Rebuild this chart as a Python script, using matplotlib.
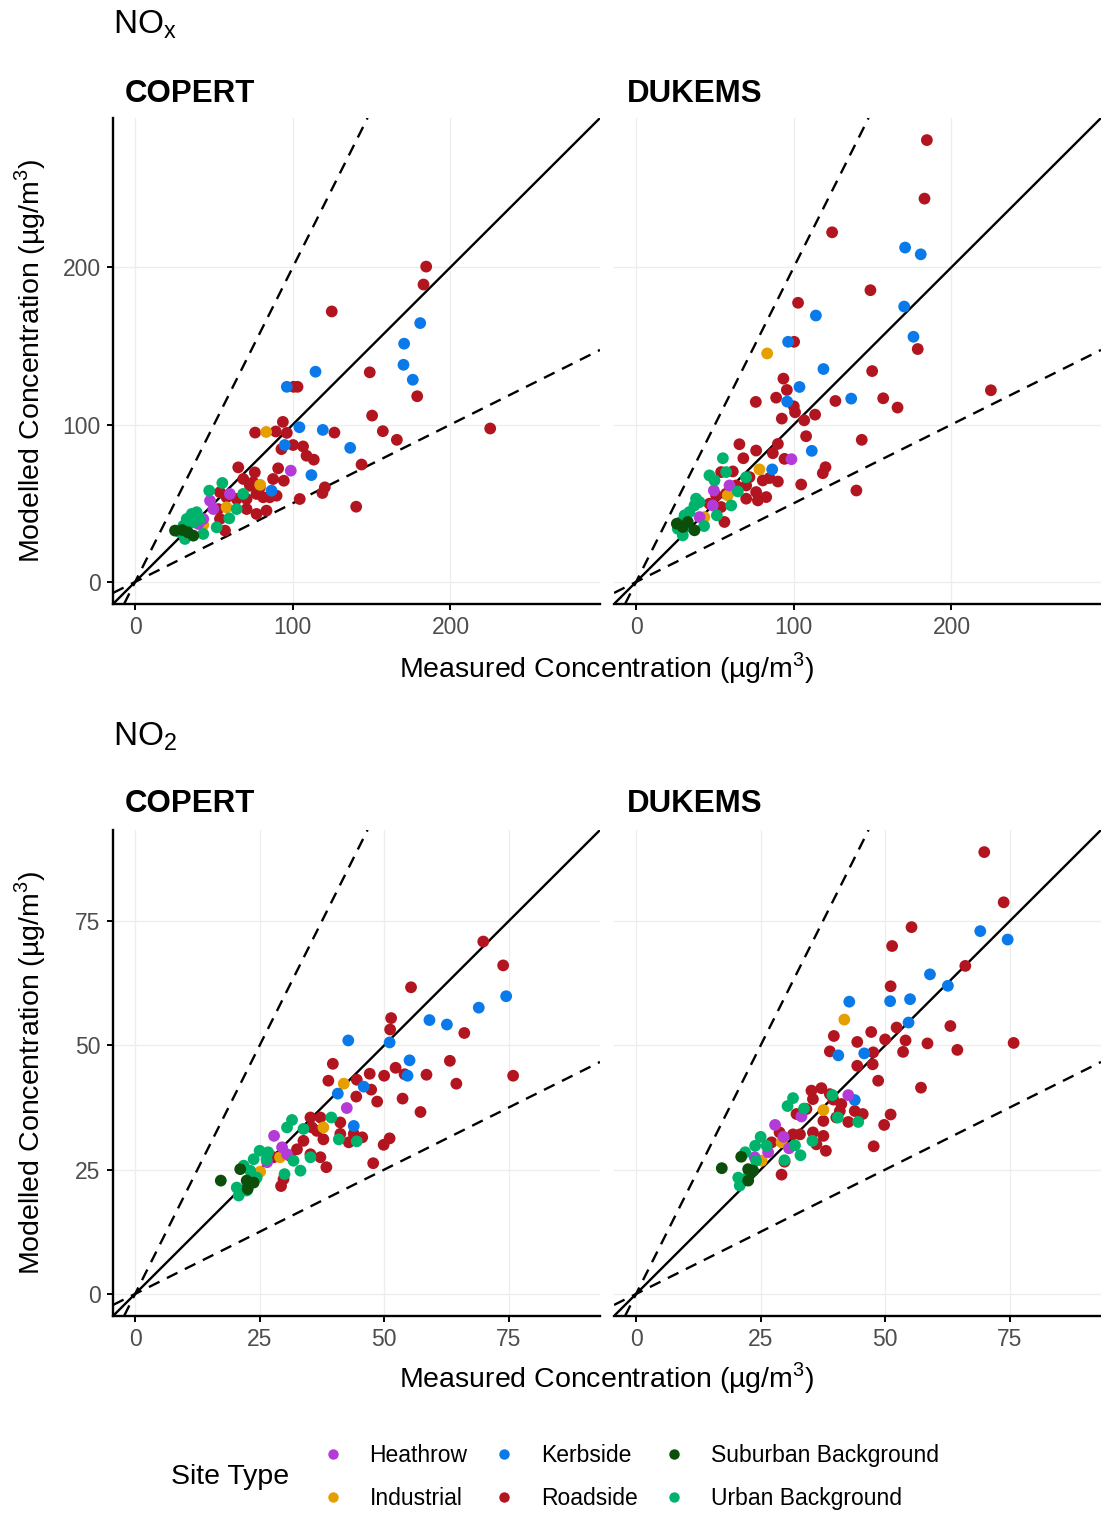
import matplotlib
matplotlib.use("Agg")
import matplotlib.pyplot as plt
from matplotlib.lines import Line2D

plt.rcParams["font.family"] = ["Liberation Sans", "DejaVu Sans"]
plt.rcParams["mathtext.fontset"] = "dejavusans"

site_types = ["Heathrow", "Industrial", "Kerbside", "Roadside",
              "Suburban Background", "Urban Background"]
site_colors = ["#B53BD9", "#E69F00", "#0A7AEB", "#B2151F", "#0B4F0B", "#00B36C"]
draw_order = ["Roadside", "Kerbside", "Industrial", "Heathrow",
              "Urban Background", "Suburban Background"]

# (measured, modelled) pairs

# NOx - COPERT
nox_cop_roadside = [
    (184.6, 200.4), (182.9, 189.0), (124.7, 171.9), (148.8, 133.2), (100.5, 124.0),
    (103.0, 124.0), (178.9, 118.0), (150.3, 105.7), (157.1, 95.8), (166.0, 90.3),
    (225.2, 97.5), (93.7, 101.7), (76.1, 94.9), (89.2, 95.6), (96.2, 94.7),
    (126.4, 94.9), (100.2, 87.0), (106.5, 86.1), (92.8, 84.4), (108.7, 80.2),
    (113.3, 77.7), (143.6, 74.6), (65.4, 72.8), (75.9, 69.6), (90.7, 72.2),
    (87.5, 65.4), (94.3, 64.3), (68.6, 65.4), (120.3, 60.1), (118.8, 56.5),
    (104.4, 52.7), (140.2, 47.8), (53.8, 57.0), (58.0, 53.8), (64.4, 52.7),
    (70.7, 52.7), (77.0, 55.9), (81.2, 53.8), (85.4, 53.8), (89.7, 54.8),
    (79.1, 60.1), (74.9, 63.3), (70.7, 46.3), (77.0, 43.2), (83.3, 45.3),
    (52.7, 46.3), (57.0, 32.6), (53.8, 40.0), (72.8, 61.1),
]
nox_cop_kerbside = [
    (180.8, 164.5), (170.6, 151.4), (170.2, 138.0), (176.1, 128.5), (114.4, 133.6),
    (96.2, 124.0), (104.2, 98.3), (119.0, 96.6), (136.4, 85.2), (94.9, 87.0),
    (111.8, 67.9), (86.5, 58.0),
]
nox_cop_industrial = [(83.1, 95.3), (79.3, 61.7), (58.0, 47.4), (43.2, 36.2)]
nox_cop_heathrow = [(98.7, 70.7), (60.1, 55.9), (49.6, 46.3), (47.5, 51.6),
                    (43.2, 40.0), (40.1, 36.8)]
nox_cop_urban = [
    (55.3, 62.9), (47.0, 58.0), (68.5, 55.9), (64.4, 46.3), (59.7, 40.4),
    (51.7, 34.7), (43.2, 30.5), (39.0, 44.3), (35.9, 43.2), (32.7, 40.0),
    (30.6, 35.7), (36.9, 37.9), (31.6, 27.3), (28.5, 31.6), (41.1, 40.0),
]
nox_cop_suburban = [(25.3, 32.6), (36.9, 29.4), (29.7, 33.0), (33.5, 31.5)]

# NOx - DUKEMS
nox_duk_roadside = [
    (184.4, 280.8), (182.9, 243.6), (124.3, 222.2), (148.6, 185.4), (102.7, 177.4),
    (100.2, 152.6), (178.6, 148.0), (149.7, 134.0), (225.0, 121.8), (93.4, 129.2),
    (95.6, 122.0), (88.8, 117.1), (75.9, 114.4), (126.4, 115.0), (156.7, 116.7),
    (165.8, 110.8), (100.0, 111.6), (100.8, 107.8), (92.4, 103.8), (113.5, 106.3),
    (106.6, 102.7), (107.8, 92.6), (143.1, 90.3), (65.5, 87.5), (76.1, 83.5),
    (89.9, 87.7), (68.0, 78.6), (86.7, 81.8), (94.1, 78.2), (120.1, 72.9),
    (118.4, 69.1), (104.7, 61.9), (139.7, 58.1), (53.9, 69.8), (61.3, 70.2),
    (71.9, 66.6), (80.3, 64.5), (84.6, 66.0), (89.9, 63.8), (69.8, 61.3),
    (76.1, 57.1), (82.5, 53.9), (69.8, 52.9), (77.2, 51.8), (46.5, 49.7),
    (53.9, 47.6), (56.0, 38.1), (50.7, 55.0), (57.0, 56.0), (63.4, 61.3),
]
nox_duk_kerbside = [
    (170.6, 212.5), (180.5, 208.2), (170.0, 175.0), (114.0, 169.3), (96.4, 152.6),
    (175.9, 155.8), (118.8, 135.3), (103.6, 123.9), (136.4, 116.5), (95.8, 114.6),
    (111.4, 83.3), (86.3, 71.5),
]
nox_duk_industrial = [(83.1, 145.2), (78.2, 71.5), (58.1, 55.0), (43.3, 41.2)]
nox_duk_heathrow = [(98.5, 78.0), (49.3, 58.1), (59.2, 61.3), (40.2, 41.2), (48.6, 48.6)]
nox_duk_urban = [
    (55.0, 78.6), (46.5, 67.7), (49.7, 64.5), (57.1, 69.8), (64.5, 57.5),
    (60.3, 48.6), (51.2, 42.3), (43.1, 35.5), (40.2, 50.7), (37.0, 48.6),
    (33.8, 44.4), (30.7, 42.3), (28.5, 38.1), (31.7, 34.9), (29.6, 29.6),
    (26.4, 33.8), (38.0, 52.9), (69.7, 66.5),
]
nox_duk_suburban = [(25.8, 37.0), (29.6, 34.9), (37.0, 32.8), (32.8, 38.1)]

# NO2 - COPERT
no2_cop_roadside = [
    (69.9, 70.9), (73.9, 66.1), (55.4, 61.7), (51.4, 55.5), (51.2, 53.2),
    (66.1, 52.5), (63.2, 46.9), (75.9, 43.9), (64.5, 42.3), (58.5, 44.1),
    (39.7, 46.3), (38.8, 42.9), (44.5, 43.1), (47.1, 44.3), (50.0, 43.9),
    (52.3, 45.5), (54.1, 44.2), (47.4, 41.1), (44.4, 39.7), (48.6, 38.7),
    (53.7, 39.3), (57.3, 36.6), (51.1, 31.3), (49.9, 30.0), (47.8, 26.3),
    (41.2, 34.5), (41.2, 32.2), (43.9, 32.2), (45.6, 31.5), (42.9, 30.5),
    (37.8, 31.1), (38.4, 25.5), (37.2, 35.5), (35.2, 35.5), (35.5, 33.5),
    (33.8, 30.8), (32.5, 29.1), (35.2, 28.1), (37.2, 27.5), (31.1, 27.8),
    (29.8, 23.1), (29.3, 21.7), (27.8, 27.5), (36.5, 32.8),
]
no2_cop_kerbside = [
    (74.5, 59.9), (69.0, 57.6), (59.1, 55.1), (62.6, 54.2), (42.8, 51.0),
    (51.1, 50.6), (55.1, 47.0), (54.7, 43.9), (45.9, 41.7), (40.7, 40.3),
    (43.9, 33.8),
]
no2_cop_industrial = [(41.9, 42.3), (37.8, 33.5), (29.1, 27.5), (25.1, 24.6)]
no2_cop_heathrow = [(42.5, 37.4), (27.9, 31.8), (30.5, 28.1), (29.5, 29.5), (26.5, 26.5)]
no2_cop_urban = [
    (39.4, 35.5), (31.5, 35.0), (30.5, 33.5), (33.8, 33.2), (35.2, 27.5),
    (33.2, 24.8), (30.0, 24.1), (31.8, 26.8), (40.9, 31.1), (44.5, 30.7),
    (25.0, 28.8), (26.4, 27.1), (23.8, 27.1), (21.8, 25.8), (23.1, 24.8),
    (24.4, 23.4), (20.4, 21.4), (20.8, 19.8), (22.4, 20.8), (26.7, 28.5),
]
no2_cop_suburban = [(17.2, 22.8), (21.1, 25.1), (22.4, 22.8), (23.8, 22.4), (22.6, 21.1)]

# NO2 - DUKEMS
no2_duk_roadside = [
    (69.9, 88.9), (73.8, 78.8), (55.3, 73.8), (51.4, 70.0), (66.1, 66.0),
    (51.1, 61.9), (52.3, 53.6), (63.1, 53.9), (75.8, 50.5), (58.5, 50.4),
    (64.5, 49.1), (54.1, 51.0), (53.6, 48.7), (50.0, 51.2), (47.2, 52.7),
    (44.4, 50.7), (39.7, 51.9), (38.9, 48.8), (47.6, 48.6), (47.5, 46.2),
    (44.4, 45.9), (48.6, 42.9), (57.2, 41.5), (51.1, 36.1), (49.8, 34.0),
    (47.7, 29.7), (35.2, 40.9), (37.2, 41.4), (35.5, 39.2), (38.9, 40.2),
    (39.6, 39.1), (41.2, 38.2), (40.9, 36.8), (43.9, 36.8), (45.5, 36.2),
    (42.6, 34.6), (40.2, 35.5), (37.6, 34.8), (32.2, 36.2), (34.2, 37.2),
    (28.8, 32.5), (27.2, 30.5), (32.9, 32.1), (35.5, 32.5), (37.6, 31.8),
    (36.2, 30.1), (38.1, 28.8), (29.8, 26.6), (29.2, 24.0), (31.5, 32.1),
]
no2_duk_kerbside = [
    (69.1, 73.0), (74.6, 71.3), (59.0, 64.3), (62.6, 62.0), (42.8, 58.8),
    (51.0, 58.9), (55.0, 59.3), (54.7, 54.6), (40.6, 48.0), (45.8, 48.4),
    (43.9, 39.0),
]
no2_duk_industrial = [(41.8, 55.2), (37.6, 37.0), (29.2, 30.5), (25.2, 26.8)]
no2_duk_heathrow = [(42.6, 40.0), (33.2, 35.7), (27.9, 34.0), (29.6, 31.6),
                    (30.7, 29.3), (26.5, 28.5), (23.8, 27.5)]
no2_duk_urban = [
    (39.4, 40.0), (31.5, 39.4), (30.4, 37.8), (33.7, 37.3), (40.5, 35.5),
    (44.6, 34.6), (35.4, 30.8), (31.9, 29.9), (33.0, 27.9), (29.8, 26.9),
    (25.0, 31.6), (23.9, 29.8), (26.2, 29.8), (21.9, 28.5), (24.1, 26.8),
    (22.7, 24.4), (20.5, 23.4), (22.1, 23.1), (20.8, 21.8),
]
no2_duk_suburban = [(17.2, 25.3), (21.1, 27.6), (22.5, 25.1), (23.5, 24.8), (22.5, 22.8)]

nox_ticks = [0, 100, 200]
no2_ticks = [0, 25, 50, 75]

nox_cop = dict(zip(site_types, [nox_cop_heathrow, nox_cop_industrial, nox_cop_kerbside,
                                nox_cop_roadside, nox_cop_suburban, nox_cop_urban]))
nox_duk = dict(zip(site_types, [nox_duk_heathrow, nox_duk_industrial, nox_duk_kerbside,
                                nox_duk_roadside, nox_duk_suburban, nox_duk_urban]))
no2_cop = dict(zip(site_types, [no2_cop_heathrow, no2_cop_industrial, no2_cop_kerbside,
                                no2_cop_roadside, no2_cop_suburban, no2_cop_urban]))
no2_duk = dict(zip(site_types, [no2_duk_heathrow, no2_duk_industrial, no2_duk_kerbside,
                                no2_duk_roadside, no2_duk_suburban, no2_duk_urban]))
color_of = dict(zip(site_types, site_colors))

W, H = 1101, 1515
fig = plt.figure(figsize=(W / 100, H / 100), dpi=100)


def fx(px):
    return px / W


def fy(py):
    return 1 - py / H


def limits(*panels):
    vmax = max(max(max(p) for p in pts) for g in panels for pts in g.values() if pts)
    pad = 0.05 * vmax
    return -pad, vmax + pad


def draw_panel(ax, groups, lim, ticks, left_axis):
    ax.set_xlim(lim)
    ax.set_ylim(lim)
    ax.set_xticks(ticks)
    ax.set_yticks(ticks)
    ax.grid(True, color="#EDEDED", lw=0.9)
    ax.set_axisbelow(True)
    for s in ["top", "right"]:
        ax.spines[s].set_visible(False)
    ax.spines["bottom"].set_linewidth(1.7)
    ax.spines["left"].set_linewidth(1.7)
    ax.tick_params(axis="both", length=4, width=1.4, color="black",
                   labelsize=16.5, labelcolor="#4D4D4D", pad=5)
    if not left_axis:
        ax.spines["left"].set_visible(False)
        ax.tick_params(axis="y", length=0, labelleft=False)

    ax.axline((0, 0), slope=1, color="black", lw=1.7, zorder=3)
    ax.axline((0, 0), slope=2, color="black", lw=1.7, ls=(0, (5, 3.5)), zorder=3)
    ax.axline((0, 0), slope=0.5, color="black", lw=1.7, ls=(0, (5, 3.5)), zorder=3)

    for site in draw_order:
        pts = groups[site]
        ax.scatter([p[0] for p in pts], [p[1] for p in pts], s=72,
                   color=color_of[site], edgecolors="none", zorder=4)


ax_w = (600 - 113) / W
ax_h = (604 - 118) / H
nox_lim = limits(nox_cop, nox_duk)
no2_lim = limits(no2_cop, no2_duk)

rows = [
    (604, nox_cop, nox_duk, nox_lim, nox_ticks),
    (1316, no2_cop, no2_duk, no2_lim, no2_ticks),
]
for bottom_px, g_cop, g_duk, lim, ticks in rows:
    ax1 = fig.add_axes([fx(113), fy(bottom_px), ax_w, ax_h])
    ax2 = fig.add_axes([fx(614), fy(bottom_px), ax_w, ax_h])
    draw_panel(ax1, g_cop, lim, ticks, True)
    draw_panel(ax2, g_duk, lim, ticks, False)

# titles and facet labels
fig.text(fx(113), fy(25), r"NO$_\mathregular{x}$", fontsize=24, va="center", ha="left")
fig.text(fx(113), fy(737), r"NO$_\mathregular{2}$", fontsize=24, va="center", ha="left")
for y in [94, 804]:
    fig.text(fx(125), fy(y), "COPERT", fontsize=22.5, fontweight="bold", va="center")
    fig.text(fx(627), fy(y), "DUKEMS", fontsize=22.5, fontweight="bold", va="center")

xlab = r"Measured Concentration (µg/m$^\mathregular{3}$)"
ylab = r"Modelled Concentration (µg/m$^\mathregular{3}$)"
for y in [668, 1378]:
    fig.text(fx(607), fy(y), xlab, fontsize=20.5, ha="center", va="center")
for y in [361, 1073]:
    fig.text(fx(30), fy(y), ylab, fontsize=20.5, ha="center", va="center", rotation=90)

# legend
handles = [Line2D([], [], ls="none", marker="o", markersize=7.5,
                  markerfacecolor=c, markeredgecolor="none") for c in site_colors]
fig.legend(handles, site_types, ncol=3, loc="center left",
           bbox_to_anchor=(fx(319), fy(1477)), frameon=False, fontsize=16.5,
           handlelength=1.2, handletextpad=1.0, columnspacing=1.0,
           labelspacing=0.9, borderpad=0, borderaxespad=0)
fig.text(fx(171), fy(1477), "Site Type", fontsize=20.5, va="center", ha="left")

fig.savefig("out.png", dpi=100, facecolor="white")
